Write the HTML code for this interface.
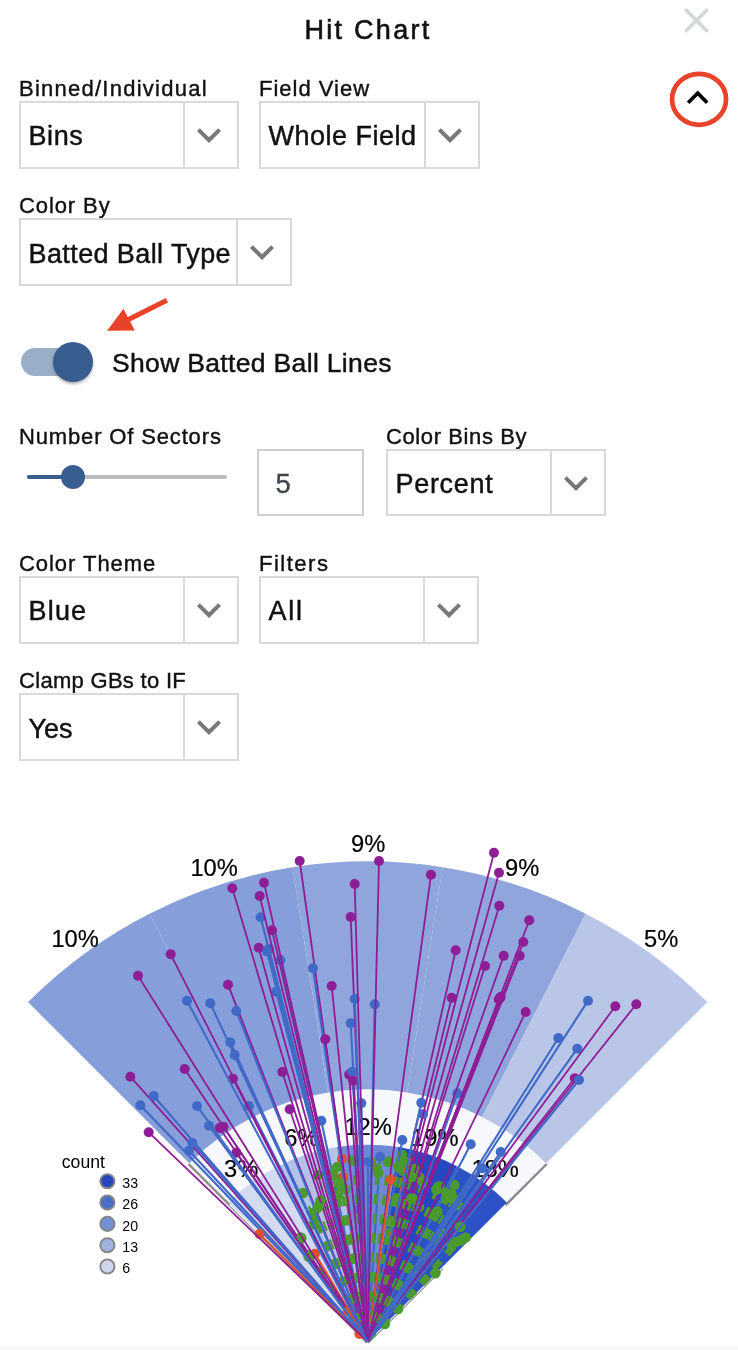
<!DOCTYPE html>
<html><head><meta charset="utf-8"><title>Hit Chart</title>
<style>
html,body{margin:0;padding:0;background:#fff;}
body{width:738px;height:1350px;position:relative;overflow:hidden;font-family:"Liberation Sans",sans-serif;color:#000;}
.abs{position:absolute;white-space:nowrap;}
.title{-webkit-text-stroke:0.6px #111;left:0;width:736px;text-align:center;top:12px;font-size:27px;line-height:36px;letter-spacing:2.3px;color:#111;}
.lbl{-webkit-text-stroke:0.4px #111;font-size:22px;line-height:26px;height:26px;color:#111;letter-spacing:0.4px;}
.sel{box-sizing:border-box;border:2px solid #d9d9d9;height:67.8px;background:#fff;}
.sel .txt{-webkit-text-stroke:0.45px #111;position:absolute;left:7.5px;top:2.5px;line-height:63px;font-size:27px;color:#111;letter-spacing:0.2px;}
.sel .div{position:absolute;right:52px;top:0;width:2px;height:64px;background:#d9d9d9;}
.sel svg{position:absolute;right:4px;top:8px;}
.num{box-sizing:border-box;border:2px solid #cfd0cd;height:67.8px;width:107px;}
.num span{position:absolute;left:16.5px;top:1.5px;line-height:63px;font-size:27.5px;color:#3e454c;-webkit-text-stroke:0.3px #3e454c;}
</style></head><body>
<div class="abs title">Hit Chart</div>

<!-- close X -->
<svg class="abs" style="left:675.3px;top:-1.5px" width="43" height="43" viewBox="0 0 24 24"><path d="M19 6.41L17.59 5 12 10.59 6.41 5 5 6.41 10.59 12 5 17.59 6.41 19 12 13.41 17.59 19 19 17.59 13.41 12z" fill="#d3d6db"/></svg>
<!-- red circle + chevron up -->
<svg class="abs" style="left:660px;top:62px" width="78" height="76" viewBox="660 62 78 76"><ellipse cx="699.05" cy="99.3" rx="27" ry="25.5" fill="none" stroke="#e8432a" stroke-width="4.7"/><g transform="translate(676.1 76.2) scale(1.8)"><path d="M12 8l-6 6 1.41 1.41L12 10.83l4.59 4.58L18 14z" fill="#000"/></g></svg>

<div class="abs lbl" style="left:19px;top:76px;letter-spacing:1.25px">Binned/Individual</div>
<div class="abs sel" style="left:19px;top:100.9px;width:220px"><span class="txt" style="letter-spacing:0.6px">Bins</span><i class="div"></i><svg width="48" height="48" viewBox="0 0 24 24"><path d="M16.59 8.59L12 13.17 7.41 8.59 6 10l6 6 6-6z" fill="#787878"/></svg></div>

<div class="abs lbl" style="left:259px;top:76px;letter-spacing:1.0px">Field View</div>
<div class="abs sel" style="left:259px;top:100.9px;width:221px"><span class="txt" style="letter-spacing:0.5px">Whole Field</span><i class="div"></i><svg width="48" height="48" viewBox="0 0 24 24"><path d="M16.59 8.59L12 13.17 7.41 8.59 6 10l6 6 6-6z" fill="#787878"/></svg></div>

<div class="abs lbl" style="left:19px;top:193px;letter-spacing:0.9px">Color By</div>
<div class="abs sel" style="left:19px;top:218.1px;width:273px"><span class="txt" style="letter-spacing:0.4px">Batted Ball Type</span><i class="div"></i><svg width="48" height="48" viewBox="0 0 24 24"><path d="M16.59 8.59L12 13.17 7.41 8.59 6 10l6 6 6-6z" fill="#787878"/></svg></div>

<!-- red arrow -->
<svg class="abs" style="left:95px;top:290px" width="90" height="50" viewBox="95 290 90 50"><path d="M166.9 300.3 L128 319.8" stroke="#e8432a" stroke-width="5" fill="none"/><path d="M107 330.8 L123.5 308.7 L134.8 330.4 Z" fill="#e8432a"/></svg>

<!-- toggle -->
<div class="abs" style="left:21px;top:348px;width:68px;height:28px;border-radius:14px;background:#9baec7"></div>
<div class="abs" style="left:53px;top:341.5px;width:40px;height:40px;border-radius:50%;background:#385d8f;box-shadow:0 2px 3px rgba(0,0,0,.3)"></div>
<div class="abs" style="left:112px;top:345px;font-size:26.5px;line-height:36px;letter-spacing:0.33px;color:#111;-webkit-text-stroke:0.45px #111">Show Batted Ball Lines</div>

<div class="abs lbl" style="left:19px;top:424px;letter-spacing:0.85px">Number Of Sectors</div>
<div class="abs" style="left:27px;top:474.5px;width:200px;height:4.5px;border-radius:2px;background:#bdbdbd"></div>
<div class="abs" style="left:27px;top:474.5px;width:46px;height:4.5px;border-radius:2px;background:#385d8f"></div>
<div class="abs" style="left:61px;top:464.7px;width:24px;height:24px;border-radius:50%;background:#385d8f"></div>
<div class="abs num" style="left:257px;top:448.6px"><span>5</span></div>

<div class="abs lbl" style="left:386px;top:424px;letter-spacing:0.6px">Color Bins By</div>
<div class="abs sel" style="left:386px;top:448.6px;width:220px"><span class="txt" style="letter-spacing:0.7px">Percent</span><i class="div"></i><svg width="48" height="48" viewBox="0 0 24 24"><path d="M16.59 8.59L12 13.17 7.41 8.59 6 10l6 6 6-6z" fill="#787878"/></svg></div>

<div class="abs lbl" style="left:19px;top:551px;letter-spacing:0.95px">Color Theme</div>
<div class="abs sel" style="left:19px;top:575.8px;width:220px"><span class="txt" style="letter-spacing:1.2px">Blue</span><i class="div"></i><svg width="48" height="48" viewBox="0 0 24 24"><path d="M16.59 8.59L12 13.17 7.41 8.59 6 10l6 6 6-6z" fill="#787878"/></svg></div>

<div class="abs lbl" style="left:259px;top:551px;letter-spacing:1.5px">Filters</div>
<div class="abs sel" style="left:259px;top:575.8px;width:220px"><span class="txt" style="letter-spacing:1.7px">All</span><i class="div"></i><svg width="48" height="48" viewBox="0 0 24 24"><path d="M16.59 8.59L12 13.17 7.41 8.59 6 10l6 6 6-6z" fill="#787878"/></svg></div>

<div class="abs lbl" style="left:19px;top:668px;letter-spacing:0.3px">Clamp GBs to IF</div>
<div class="abs sel" style="left:19px;top:693px;width:220px"><span class="txt" style="letter-spacing:0px">Yes</span><i class="div"></i><svg width="48" height="48" viewBox="0 0 24 24"><path d="M16.59 8.59L12 13.17 7.41 8.59 6 10l6 6 6-6z" fill="#787878"/></svg></div>

<div class="abs" id="botband" style="left:0;top:1344px;width:738px;height:6px;background:linear-gradient(#fff,#f8f8f8)"></div>
<!--CHART-->
<svg class="abs" style="left:0;top:800px" width="738" height="550" viewBox="0 800 738 550" font-family="Liberation Sans, sans-serif">
<path d="M367.6 1341.7L189.2 1163.3A252.3 252.3 0 0 1 546.0 1163.3Z" fill="#f7f8fb"/>
<path d="M366.5 1342.8L229.3 1205.7" stroke="#999" stroke-width="1.3" fill="none"/>
<path d="M229.7 1205.2L188.5 1164.0" stroke="#8a8a8a" stroke-width="2.4" fill="none"/>
<path d="M368.7 1342.8L443.0 1268.6" stroke="#999" stroke-width="1.3" fill="none"/>
<path d="M505.5 1205.2L546.7 1164.0" stroke="#8a8a8a" stroke-width="2.4" fill="none"/>
<path d="M28.0 1002.1A480.3 480.3 0 0 1 149.5 913.7L253.1 1116.9A252.3 252.3 0 0 0 189.2 1163.3Z" fill="#869ed9"/>
<path d="M149.5 913.7A480.3 480.3 0 0 1 292.5 867.3L328.1 1092.5A252.3 252.3 0 0 0 253.1 1116.9Z" fill="#869ed9"/>
<path d="M292.5 867.3A480.3 480.3 0 0 1 442.7 867.3L407.1 1092.5A252.3 252.3 0 0 0 328.1 1092.5Z" fill="#8fa5dc"/>
<path d="M442.7 867.3A480.3 480.3 0 0 1 585.7 913.7L482.1 1116.9A252.3 252.3 0 0 0 407.1 1092.5Z" fill="#8fa5dc"/>
<path d="M585.7 913.7A480.3 480.3 0 0 1 707.2 1002.1L546.0 1163.3A252.3 252.3 0 0 0 482.1 1116.9Z" fill="#b9c6e8"/>
<path d="M367.6 1341.7L228.3 1202.4A197.0 197.0 0 0 1 278.2 1166.2Z" fill="#d3dbf0"/>
<path d="M367.6 1341.7L278.2 1166.2A197.0 197.0 0 0 1 336.8 1147.1Z" fill="#b4c2e7"/>
<path d="M367.6 1341.7L336.8 1147.1A197.0 197.0 0 0 1 398.4 1147.1Z" fill="#6f8ad4"/>
<path d="M367.6 1341.7L398.4 1147.1A197.0 197.0 0 0 1 457.0 1166.2Z" fill="#2448c2"/>
<path d="M367.6 1341.7L457.0 1166.2A197.0 197.0 0 0 1 506.9 1202.4Z" fill="#2c52c5"/>
<text x="75.1" y="946.9" font-size="23.7" text-anchor="middle" fill="#000" stroke="#000" stroke-width="0.2">10%</text>
<text x="241.1" y="1176.5" font-size="23.7" text-anchor="middle" fill="#000" stroke="#000" stroke-width="0.2">3%</text>
<text x="214.1" y="876.1" font-size="23.7" text-anchor="middle" fill="#000" stroke="#000" stroke-width="0.2">10%</text>
<text x="301.4" y="1145.8" font-size="23.7" text-anchor="middle" fill="#000" stroke="#000" stroke-width="0.2">6%</text>
<text x="368.1" y="851.7" font-size="23.7" text-anchor="middle" fill="#000" stroke="#000" stroke-width="0.2">9%</text>
<text x="368.1" y="1135.2" font-size="23.7" text-anchor="middle" fill="#000" stroke="#000" stroke-width="0.2">12%</text>
<text x="522.1" y="876.1" font-size="23.7" text-anchor="middle" fill="#000" stroke="#000" stroke-width="0.2">9%</text>
<text x="434.8" y="1145.8" font-size="23.7" text-anchor="middle" fill="#000" stroke="#000" stroke-width="0.2">19%</text>
<text x="661.1" y="946.9" font-size="23.7" text-anchor="middle" fill="#000" stroke="#000" stroke-width="0.2">5%</text>
<text x="495.1" y="1176.5" font-size="23.7" text-anchor="middle" fill="#000" stroke="#000" stroke-width="0.2">18%</text>
<g fill="none">
<path d="M367.6 1341.7L342.0 1159.0" stroke="#e0502b" stroke-width="2"/><circle cx="342.0" cy="1159.0" r="5" fill="#e0502b"/>
<path d="M367.6 1341.7L340.3 1178.9" stroke="#4a9a2e" stroke-width="2.2" stroke-dasharray="10 9.5" stroke-dashoffset="-1.2"/><circle cx="340.3" cy="1178.9" r="5.3" fill="#4a9a2e"/>
<path d="M367.6 1341.7L388.7 1161.7" stroke="#4a9a2e" stroke-width="2.2" stroke-dasharray="10 9.5" stroke-dashoffset="-1.2"/><circle cx="388.7" cy="1161.7" r="5.3" fill="#4a9a2e"/>
<path d="M367.6 1341.7L451.5 1194.2" stroke="#4a9a2e" stroke-width="2.2" stroke-dasharray="10 9.5" stroke-dashoffset="-1.2"/><circle cx="451.5" cy="1194.2" r="5.3" fill="#4a9a2e"/>
<path d="M367.6 1341.7L396.2 1198.5" stroke="#4a9a2e" stroke-width="2.2" stroke-dasharray="10 9.5" stroke-dashoffset="-1.2"/><circle cx="396.2" cy="1198.5" r="5.3" fill="#4a9a2e"/>
<path d="M367.6 1341.7L419.0 1176.9" stroke="#4a9a2e" stroke-width="2.2" stroke-dasharray="10 9.5" stroke-dashoffset="-1.2"/><circle cx="419.0" cy="1176.9" r="5.3" fill="#4a9a2e"/>
<path d="M367.6 1341.7L405.7 1183.6" stroke="#4a9a2e" stroke-width="2.2" stroke-dasharray="10 9.5" stroke-dashoffset="-1.2"/><circle cx="405.7" cy="1183.6" r="5.3" fill="#4a9a2e"/>
<path d="M367.6 1341.7L341.6 1186.5" stroke="#4a9a2e" stroke-width="2.2" stroke-dasharray="10 9.5" stroke-dashoffset="-1.2"/><circle cx="341.6" cy="1186.5" r="5.3" fill="#4a9a2e"/>
<path d="M367.6 1341.7L419.0 1206.7" stroke="#4a9a2e" stroke-width="2.2" stroke-dasharray="10 9.5" stroke-dashoffset="-1.2"/><circle cx="419.0" cy="1206.7" r="5.3" fill="#4a9a2e"/>
<path d="M367.6 1341.7L402.7 1170.4" stroke="#4a9a2e" stroke-width="2.2" stroke-dasharray="10 9.5" stroke-dashoffset="-1.2"/><circle cx="402.7" cy="1170.4" r="5.3" fill="#4a9a2e"/>
<path d="M367.6 1341.7L387.6 1161.7" stroke="#4a9a2e" stroke-width="2.2" stroke-dasharray="10 9.5" stroke-dashoffset="-1.2"/><circle cx="387.6" cy="1161.7" r="5.3" fill="#4a9a2e"/>
<path d="M367.6 1341.7L454.2 1185.0" stroke="#4a9a2e" stroke-width="2.2" stroke-dasharray="10 9.5" stroke-dashoffset="-1.2"/><circle cx="454.2" cy="1185.0" r="5.3" fill="#4a9a2e"/>
<path d="M367.6 1341.7L446.0 1198.5" stroke="#4a9a2e" stroke-width="2.2" stroke-dasharray="10 9.5" stroke-dashoffset="-1.2"/><circle cx="446.0" cy="1198.5" r="5.3" fill="#4a9a2e"/>
<path d="M367.6 1341.7L313.8 1212.6" stroke="#4a9a2e" stroke-width="2.2" stroke-dasharray="10 9.5" stroke-dashoffset="-1.2"/><circle cx="313.8" cy="1212.6" r="5.3" fill="#4a9a2e"/>
<path d="M367.6 1341.7L424.4 1182.3" stroke="#4a9a2e" stroke-width="2.2" stroke-dasharray="10 9.5" stroke-dashoffset="-1.2"/><circle cx="424.4" cy="1182.3" r="5.3" fill="#4a9a2e"/>
<path d="M367.6 1341.7L370.8 1161.7" stroke="#4a9a2e" stroke-width="2.2" stroke-dasharray="10 9.5" stroke-dashoffset="-1.2"/><circle cx="370.8" cy="1161.7" r="5.3" fill="#4a9a2e"/>
<path d="M367.6 1341.7L460.8 1240.4" stroke="#4a9a2e" stroke-width="2.2" stroke-dasharray="10 9.5" stroke-dashoffset="-1.2"/><circle cx="460.8" cy="1240.4" r="5.3" fill="#4a9a2e"/>
<path d="M367.6 1341.7L438.5 1186.6" stroke="#4a9a2e" stroke-width="2.2" stroke-dasharray="10 9.5" stroke-dashoffset="-1.2"/><circle cx="438.5" cy="1186.6" r="5.3" fill="#4a9a2e"/>
<path d="M367.6 1341.7L409.8 1172.6" stroke="#4a9a2e" stroke-width="2.2" stroke-dasharray="10 9.5" stroke-dashoffset="-1.2"/><circle cx="409.8" cy="1172.6" r="5.3" fill="#4a9a2e"/>
<path d="M367.6 1341.7L442.9 1233.2" stroke="#4a9a2e" stroke-width="2.2" stroke-dasharray="10 9.5" stroke-dashoffset="-1.2"/><circle cx="442.9" cy="1233.2" r="5.3" fill="#4a9a2e"/>
<path d="M367.6 1341.7L451.8 1244.9" stroke="#4a9a2e" stroke-width="2.2" stroke-dasharray="10 9.5" stroke-dashoffset="-1.2"/><circle cx="451.8" cy="1244.9" r="5.3" fill="#4a9a2e"/>
<path d="M367.6 1341.7L400.6 1160.6" stroke="#4a9a2e" stroke-width="2.2" stroke-dasharray="10 9.5" stroke-dashoffset="-1.2"/><circle cx="400.6" cy="1160.6" r="5.3" fill="#4a9a2e"/>
<path d="M367.6 1341.7L384.8 1323.9" stroke="#4a9a2e" stroke-width="2.2" stroke-dasharray="10 9.5" stroke-dashoffset="-1.2"/><circle cx="384.8" cy="1323.9" r="5.3" fill="#4a9a2e"/>
<path d="M367.6 1341.7L494.0 852.7" stroke="#8e1e96" stroke-width="1.8"/><circle cx="494.0" cy="852.7" r="5" fill="#8e1e96"/>
<path d="M367.6 1341.7L574.7 1078.3" stroke="#8e1e96" stroke-width="1.8"/><circle cx="574.7" cy="1078.3" r="5" fill="#8e1e96"/>
<path d="M367.6 1341.7L402.0 1154.8" stroke="#4a9a2e" stroke-width="2.2" stroke-dasharray="10 9.5" stroke-dashoffset="-1.2"/><circle cx="402.0" cy="1154.8" r="5.3" fill="#4a9a2e"/>
<path d="M367.6 1341.7L636.3 1004.2" stroke="#8e1e96" stroke-width="1.8"/><circle cx="636.3" cy="1004.2" r="5" fill="#8e1e96"/>
<path d="M367.6 1341.7L299.7 861.0" stroke="#8e1e96" stroke-width="1.8"/><circle cx="299.7" cy="861.0" r="5" fill="#8e1e96"/>
<path d="M367.6 1341.7L529.3 920.3" stroke="#8e1e96" stroke-width="1.8"/><circle cx="529.3" cy="920.3" r="5" fill="#8e1e96"/>
<path d="M367.6 1341.7L236.3 1152.7" stroke="#8e1e96" stroke-width="1.8"/><circle cx="236.3" cy="1152.7" r="5" fill="#8e1e96"/>
<path d="M367.6 1341.7L361.3 1103.3" stroke="#4169c8" stroke-width="2.1"/><circle cx="361.3" cy="1103.3" r="5" fill="#4169c8"/>
<path d="M367.6 1341.7L338.3 1189.8" stroke="#4a9a2e" stroke-width="2.2" stroke-dasharray="10 9.5" stroke-dashoffset="-1.2"/><circle cx="338.3" cy="1189.8" r="5.3" fill="#4a9a2e"/>
<path d="M367.6 1341.7L321.3 1120.7" stroke="#4169c8" stroke-width="2.1"/><circle cx="321.3" cy="1120.7" r="5" fill="#4169c8"/>
<path d="M367.6 1341.7L314.9 1218.7" stroke="#4a9a2e" stroke-width="2.2" stroke-dasharray="10 9.5" stroke-dashoffset="-1.2"/><circle cx="314.9" cy="1218.7" r="5.3" fill="#4a9a2e"/>
<path d="M367.6 1341.7L140.3 1105.3" stroke="#4169c8" stroke-width="2.1"/><circle cx="140.3" cy="1105.3" r="5" fill="#4169c8"/>
<path d="M367.6 1341.7L414.7 1169.1" stroke="#4a9a2e" stroke-width="2.2" stroke-dasharray="10 9.5" stroke-dashoffset="-1.2"/><circle cx="414.7" cy="1169.1" r="5.3" fill="#4a9a2e"/>
<path d="M367.6 1341.7L228.0 984.7" stroke="#8e1e96" stroke-width="1.8"/><circle cx="228.0" cy="984.7" r="5" fill="#8e1e96"/>
<path d="M367.6 1341.7L269.0 949.0" stroke="#4169c8" stroke-width="2.1"/><circle cx="269.0" cy="949.0" r="5" fill="#4169c8"/>
<path d="M367.6 1341.7L268.0 950.0" stroke="#4169c8" stroke-width="2.1"/><circle cx="268.0" cy="950.0" r="5" fill="#4169c8"/>
<path d="M367.6 1341.7L485.0 966.0" stroke="#8e1e96" stroke-width="1.8"/><circle cx="485.0" cy="966.0" r="5" fill="#8e1e96"/>
<path d="M367.6 1341.7L615.3 1006.3" stroke="#8e1e96" stroke-width="1.8"/><circle cx="615.3" cy="1006.3" r="5" fill="#8e1e96"/>
<path d="M367.6 1341.7L458.0 1205.0" stroke="#4a9a2e" stroke-width="2.2" stroke-dasharray="10 9.5" stroke-dashoffset="-1.2"/><circle cx="458.0" cy="1205.0" r="5.3" fill="#4a9a2e"/>
<path d="M367.6 1341.7L352.9 1160.6" stroke="#4a9a2e" stroke-width="2.2" stroke-dasharray="10 9.5" stroke-dashoffset="-1.2"/><circle cx="352.9" cy="1160.6" r="5.3" fill="#4a9a2e"/>
<path d="M367.6 1341.7L470.7 1144.3" stroke="#4169c8" stroke-width="2.1"/><circle cx="470.7" cy="1144.3" r="5" fill="#4169c8"/>
<path d="M367.6 1341.7L455.9 1241.9" stroke="#4a9a2e" stroke-width="2.2" stroke-dasharray="10 9.5" stroke-dashoffset="-1.2"/><circle cx="455.9" cy="1241.9" r="5.3" fill="#4a9a2e"/>
<path d="M367.6 1341.7L453.7 1198.5" stroke="#4a9a2e" stroke-width="2.2" stroke-dasharray="10 9.5" stroke-dashoffset="-1.2"/><circle cx="453.7" cy="1198.5" r="5.3" fill="#4a9a2e"/>
<path d="M367.6 1341.7L318.0 1175.0" stroke="#4a9a2e" stroke-width="2.2" stroke-dasharray="10 9.5" stroke-dashoffset="-1.2"/><circle cx="318.0" cy="1175.0" r="5.3" fill="#4a9a2e"/>
<path d="M367.6 1341.7L446.1 1193.3" stroke="#4a9a2e" stroke-width="2.2" stroke-dasharray="10 9.5" stroke-dashoffset="-1.2"/><circle cx="446.1" cy="1193.3" r="5.3" fill="#4a9a2e"/>
<path d="M367.6 1341.7L223.5 1126.7" stroke="#8e1e96" stroke-width="1.8"/><circle cx="223.5" cy="1126.7" r="5" fill="#8e1e96"/>
<path d="M367.6 1341.7L523.3 942.0" stroke="#8e1e96" stroke-width="1.8"/><circle cx="523.3" cy="942.0" r="5" fill="#8e1e96"/>
<path d="M367.6 1341.7L402.3 1140.0" stroke="#4169c8" stroke-width="2.1"/><circle cx="402.3" cy="1140.0" r="5" fill="#4169c8"/>
<path d="M367.6 1341.7L359.0 1209.4" stroke="#4169c8" stroke-width="2.1"/><circle cx="359.0" cy="1209.4" r="5" fill="#4169c8"/>
<path d="M367.6 1341.7L232.3 888.3" stroke="#8e1e96" stroke-width="1.8"/><circle cx="232.3" cy="888.3" r="5" fill="#8e1e96"/>
<path d="M367.6 1341.7L343.0 1176.9" stroke="#e0502b" stroke-width="2"/><circle cx="343.0" cy="1176.9" r="5" fill="#e0502b"/>
<path d="M367.6 1341.7L460.2 1226.7" stroke="#4a9a2e" stroke-width="2.2" stroke-dasharray="10 9.5" stroke-dashoffset="-1.2"/><circle cx="460.2" cy="1226.7" r="5.3" fill="#4a9a2e"/>
<path d="M367.6 1341.7L431.0 874.7" stroke="#8e1e96" stroke-width="1.8"/><circle cx="431.0" cy="874.7" r="5" fill="#8e1e96"/>
<path d="M367.6 1341.7L303.0 1193.0" stroke="#4a9a2e" stroke-width="2.2" stroke-dasharray="10 9.5" stroke-dashoffset="-1.2"/><circle cx="303.0" cy="1193.0" r="5.3" fill="#4a9a2e"/>
<path d="M367.6 1341.7L350.7 1023.3" stroke="#4169c8" stroke-width="2.1"/><circle cx="350.7" cy="1023.3" r="5" fill="#4169c8"/>
<path d="M367.6 1341.7L300.8 1237.6" stroke="#4a9a2e" stroke-width="2.2" stroke-dasharray="10 9.5" stroke-dashoffset="-1.2"/><circle cx="300.8" cy="1237.6" r="5.3" fill="#4a9a2e"/>
<path d="M367.6 1341.7L276.3 991.7" stroke="#4169c8" stroke-width="2.1"/><circle cx="276.3" cy="991.7" r="5" fill="#4169c8"/>
<path d="M367.6 1341.7L209.0 1125.7" stroke="#4169c8" stroke-width="2.1"/><circle cx="209.0" cy="1125.7" r="5" fill="#4169c8"/>
<path d="M367.6 1341.7L412.5 1198.5" stroke="#4a9a2e" stroke-width="2.2" stroke-dasharray="10 9.5" stroke-dashoffset="-1.2"/><circle cx="412.5" cy="1198.5" r="5.3" fill="#4a9a2e"/>
<path d="M367.6 1341.7L408.2 1172.5" stroke="#4a9a2e" stroke-width="2.2" stroke-dasharray="10 9.5" stroke-dashoffset="-1.2"/><circle cx="408.2" cy="1172.5" r="5.3" fill="#4a9a2e"/>
<path d="M367.6 1341.7L282.3 1072.0" stroke="#8e1e96" stroke-width="1.8"/><circle cx="282.3" cy="1072.0" r="5" fill="#8e1e96"/>
<path d="M367.6 1341.7L350.7 917.0" stroke="#8e1e96" stroke-width="1.8"/><circle cx="350.7" cy="917.0" r="5" fill="#8e1e96"/>
<path d="M367.6 1341.7L374.7 1004.3" stroke="#4169c8" stroke-width="2.1"/><circle cx="374.7" cy="1004.3" r="5" fill="#4169c8"/>
<path d="M367.6 1341.7L380.0 1156.7" stroke="#4169c8" stroke-width="2.1"/><circle cx="380.0" cy="1156.7" r="5" fill="#4169c8"/>
<path d="M367.6 1341.7L130.3 1076.7" stroke="#8e1e96" stroke-width="1.8"/><circle cx="130.3" cy="1076.7" r="5" fill="#8e1e96"/>
<path d="M367.6 1341.7L249.0 1106.0" stroke="#4169c8" stroke-width="2.1"/><circle cx="249.0" cy="1106.0" r="5" fill="#4169c8"/>
<path d="M367.6 1341.7L337.3 1167.1" stroke="#4a9a2e" stroke-width="2.2" stroke-dasharray="10 9.5" stroke-dashoffset="-1.2"/><circle cx="337.3" cy="1167.1" r="5.3" fill="#4a9a2e"/>
<path d="M367.6 1341.7L499.0 872.7" stroke="#8e1e96" stroke-width="1.8"/><circle cx="499.0" cy="872.7" r="5" fill="#8e1e96"/>
<path d="M367.6 1341.7L313.0 968.3" stroke="#4169c8" stroke-width="2.1"/><circle cx="313.0" cy="968.3" r="5" fill="#4169c8"/>
<path d="M367.6 1341.7L349.2 1074.6" stroke="#8e1e96" stroke-width="1.8"/><circle cx="349.2" cy="1074.6" r="5" fill="#8e1e96"/>
<path d="M367.6 1341.7L320.4 1200.7" stroke="#4a9a2e" stroke-width="2.2" stroke-dasharray="10 9.5" stroke-dashoffset="-1.2"/><circle cx="320.4" cy="1200.7" r="5.3" fill="#4a9a2e"/>
<path d="M367.6 1341.7L233.0 1078.7" stroke="#8e1e96" stroke-width="1.8"/><circle cx="233.0" cy="1078.7" r="5" fill="#8e1e96"/>
<path d="M367.6 1341.7L352.3 1071.7" stroke="#4169c8" stroke-width="2.1"/><circle cx="352.3" cy="1071.7" r="5" fill="#4169c8"/>
<path d="M367.6 1341.7L236.3 1011.0" stroke="#4169c8" stroke-width="2.1"/><circle cx="236.3" cy="1011.0" r="5" fill="#4169c8"/>
<path d="M367.6 1341.7L437.4 1211.5" stroke="#4a9a2e" stroke-width="2.2" stroke-dasharray="10 9.5" stroke-dashoffset="-1.2"/><circle cx="437.4" cy="1211.5" r="5.3" fill="#4a9a2e"/>
<path d="M367.6 1341.7L189.0 1150.7" stroke="#4169c8" stroke-width="2.1"/><circle cx="189.0" cy="1150.7" r="5" fill="#4169c8"/>
<path d="M367.6 1341.7L390.2 1233.4" stroke="#4a9a2e" stroke-width="2.2" stroke-dasharray="10 9.5" stroke-dashoffset="-1.2"/><circle cx="390.2" cy="1233.4" r="5.3" fill="#4a9a2e"/>
<path d="M367.6 1341.7L309.5 1254.9" stroke="#4a9a2e" stroke-width="2.2" stroke-dasharray="10 9.5" stroke-dashoffset="-1.2"/><circle cx="309.5" cy="1254.9" r="5.3" fill="#4a9a2e"/>
<path d="M367.6 1341.7L429.9 1213.7" stroke="#4a9a2e" stroke-width="2.2" stroke-dasharray="10 9.5" stroke-dashoffset="-1.2"/><circle cx="429.9" cy="1213.7" r="5.3" fill="#4a9a2e"/>
<path d="M367.6 1341.7L439.6 1186.6" stroke="#4a9a2e" stroke-width="2.2" stroke-dasharray="10 9.5" stroke-dashoffset="-1.2"/><circle cx="439.6" cy="1186.6" r="5.3" fill="#4a9a2e"/>
<path d="M367.6 1341.7L455.7 950.3" stroke="#8e1e96" stroke-width="1.8"/><circle cx="455.7" cy="950.3" r="5" fill="#8e1e96"/>
<path d="M367.6 1341.7L465.6 1237.6" stroke="#4a9a2e" stroke-width="2.2" stroke-dasharray="10 9.5" stroke-dashoffset="-1.2"/><circle cx="465.6" cy="1237.6" r="5.3" fill="#4a9a2e"/>
<path d="M367.6 1341.7L519.7 955.7" stroke="#8e1e96" stroke-width="1.8"/><circle cx="519.7" cy="955.7" r="5" fill="#8e1e96"/>
<path d="M367.6 1341.7L558.3 1038.0" stroke="#4169c8" stroke-width="2.1"/><circle cx="558.3" cy="1038.0" r="5" fill="#4169c8"/>
<path d="M367.6 1341.7L422.2 1181.2" stroke="#4a9a2e" stroke-width="2.2" stroke-dasharray="10 9.5" stroke-dashoffset="-1.2"/><circle cx="422.2" cy="1181.2" r="5.3" fill="#4a9a2e"/>
<path d="M367.6 1341.7L230.3 1042.3" stroke="#4169c8" stroke-width="2.1"/><circle cx="230.3" cy="1042.3" r="5" fill="#4169c8"/>
<path d="M367.6 1341.7L398.0 1309.0" stroke="#4a9a2e" stroke-width="2.2" stroke-dasharray="10 9.5" stroke-dashoffset="-1.2"/><circle cx="398.0" cy="1309.0" r="5.3" fill="#4a9a2e"/>
<path d="M367.6 1341.7L407.0 1161.7" stroke="#e0502b" stroke-width="2"/><circle cx="407.0" cy="1161.7" r="5" fill="#e0502b"/>
<path d="M367.6 1341.7L280.3 960.0" stroke="#4169c8" stroke-width="2.1"/><circle cx="280.3" cy="960.0" r="5" fill="#4169c8"/>
<path d="M367.6 1341.7L258.7 947.7" stroke="#8e1e96" stroke-width="1.8"/><circle cx="258.7" cy="947.7" r="5" fill="#8e1e96"/>
<path d="M367.6 1341.7L499.3 905.7" stroke="#8e1e96" stroke-width="1.8"/><circle cx="499.3" cy="905.7" r="5" fill="#8e1e96"/>
<path d="M367.6 1341.7L390.8 1179.7" stroke="#e0502b" stroke-width="2"/><circle cx="390.8" cy="1179.7" r="5" fill="#e0502b"/>
<path d="M367.6 1341.7L577.3 1048.7" stroke="#4169c8" stroke-width="2.1"/><circle cx="577.3" cy="1048.7" r="5" fill="#4169c8"/>
<path d="M367.6 1341.7L337.9 1195.3" stroke="#4a9a2e" stroke-width="2.2" stroke-dasharray="10 9.5" stroke-dashoffset="-1.2"/><circle cx="337.9" cy="1195.3" r="5.3" fill="#4a9a2e"/>
<path d="M367.6 1341.7L332.9 1174.6" stroke="#4a9a2e" stroke-width="2.2" stroke-dasharray="10 9.5" stroke-dashoffset="-1.2"/><circle cx="332.9" cy="1174.6" r="5.3" fill="#4a9a2e"/>
<path d="M367.6 1341.7L404.0 1161.5" stroke="#4a9a2e" stroke-width="2.2" stroke-dasharray="10 9.5" stroke-dashoffset="-1.2"/><circle cx="404.0" cy="1161.5" r="5.3" fill="#4a9a2e"/>
<path d="M367.6 1341.7L457.3 1093.3" stroke="#4169c8" stroke-width="2.1"/><circle cx="457.3" cy="1093.3" r="5" fill="#4169c8"/>
<path d="M367.6 1341.7L376.7 1168.2" stroke="#4a9a2e" stroke-width="2.2" stroke-dasharray="10 9.5" stroke-dashoffset="-1.2"/><circle cx="376.7" cy="1168.2" r="5.3" fill="#4a9a2e"/>
<path d="M367.6 1341.7L411.4 1176.9" stroke="#4a9a2e" stroke-width="2.2" stroke-dasharray="10 9.5" stroke-dashoffset="-1.2"/><circle cx="411.4" cy="1176.9" r="5.3" fill="#4a9a2e"/>
<path d="M367.6 1341.7L315.0 1253.8" stroke="#e0502b" stroke-width="2"/><circle cx="315.0" cy="1253.8" r="5" fill="#e0502b"/>
<path d="M367.6 1341.7L435.4 1273.2" stroke="#4a9a2e" stroke-width="2.2" stroke-dasharray="10 9.5" stroke-dashoffset="-1.2"/><circle cx="435.4" cy="1273.2" r="5.3" fill="#4a9a2e"/>
<path d="M367.6 1341.7L259.5 1234.0" stroke="#e0502b" stroke-width="2"/><circle cx="259.5" cy="1234.0" r="5" fill="#e0502b"/>
<path d="M367.6 1341.7L397.3 1198.5" stroke="#4a9a2e" stroke-width="2.2" stroke-dasharray="10 9.5" stroke-dashoffset="-1.2"/><circle cx="397.3" cy="1198.5" r="5.3" fill="#4a9a2e"/>
<path d="M367.6 1341.7L313.7 1224.3" stroke="#4a9a2e" stroke-width="2.2" stroke-dasharray="10 9.5" stroke-dashoffset="-1.2"/><circle cx="313.7" cy="1224.3" r="5.3" fill="#4a9a2e"/>
<path d="M367.6 1341.7L378.1 1173.0" stroke="#4a9a2e" stroke-width="2.2" stroke-dasharray="10 9.5" stroke-dashoffset="-1.2"/><circle cx="378.1" cy="1173.0" r="5.3" fill="#4a9a2e"/>
<path d="M367.6 1341.7L289.7 1109.3" stroke="#8e1e96" stroke-width="1.8"/><circle cx="289.7" cy="1109.3" r="5" fill="#8e1e96"/>
<path d="M367.6 1341.7L503.7 955.7" stroke="#8e1e96" stroke-width="1.8"/><circle cx="503.7" cy="955.7" r="5" fill="#8e1e96"/>
<path d="M367.6 1341.7L421.3 1102.7" stroke="#4169c8" stroke-width="2.1"/><circle cx="421.3" cy="1102.7" r="5" fill="#4169c8"/>
<path d="M367.6 1341.7L368.0 1162.0" stroke="#4169c8" stroke-width="2.1"/><circle cx="368.0" cy="1162.0" r="5" fill="#4169c8"/>
<path d="M367.6 1341.7L525.7 1012.0" stroke="#8e1e96" stroke-width="1.8"/><circle cx="525.7" cy="1012.0" r="5" fill="#8e1e96"/>
<path d="M367.6 1341.7L184.7 1069.0" stroke="#8e1e96" stroke-width="1.8"/><circle cx="184.7" cy="1069.0" r="5" fill="#8e1e96"/>
<path d="M367.6 1341.7L588.0 1000.7" stroke="#4169c8" stroke-width="2.1"/><circle cx="588.0" cy="1000.7" r="5" fill="#4169c8"/>
<path d="M367.6 1341.7L272.0 930.3" stroke="#8e1e96" stroke-width="1.8"/><circle cx="272.0" cy="930.3" r="5" fill="#8e1e96"/>
<path d="M367.6 1341.7L398.4 1166.7" stroke="#4a9a2e" stroke-width="2.2" stroke-dasharray="10 9.5" stroke-dashoffset="-1.2"/><circle cx="398.4" cy="1166.7" r="5.3" fill="#4a9a2e"/>
<path d="M367.6 1341.7L353.2 1080.8" stroke="#8e1e96" stroke-width="1.8"/><circle cx="353.2" cy="1080.8" r="5" fill="#8e1e96"/>
<path d="M367.6 1341.7L340.3 1183.4" stroke="#4a9a2e" stroke-width="2.2" stroke-dasharray="10 9.5" stroke-dashoffset="-1.2"/><circle cx="340.3" cy="1183.4" r="5.3" fill="#4a9a2e"/>
<path d="M367.6 1341.7L153.7 1096.0" stroke="#4169c8" stroke-width="2.1"/><circle cx="153.7" cy="1096.0" r="5" fill="#4169c8"/>
<path d="M367.6 1341.7L267.0 951.5" stroke="#4169c8" stroke-width="2.1"/><circle cx="267.0" cy="951.5" r="5" fill="#4169c8"/>
<path d="M367.6 1341.7L500.7 997.0" stroke="#8e1e96" stroke-width="1.8"/><circle cx="500.7" cy="997.0" r="5" fill="#8e1e96"/>
<path d="M367.6 1341.7L345.1 1189.2" stroke="#4a9a2e" stroke-width="2.2" stroke-dasharray="10 9.5" stroke-dashoffset="-1.2"/><circle cx="345.1" cy="1189.2" r="5.3" fill="#4a9a2e"/>
<path d="M367.6 1341.7L436.4 1189.6" stroke="#4a9a2e" stroke-width="2.2" stroke-dasharray="10 9.5" stroke-dashoffset="-1.2"/><circle cx="436.4" cy="1189.6" r="5.3" fill="#4a9a2e"/>
<path d="M367.6 1341.7L390.8 1222.4" stroke="#4a9a2e" stroke-width="2.2" stroke-dasharray="10 9.5" stroke-dashoffset="-1.2"/><circle cx="390.8" cy="1222.4" r="5.3" fill="#4a9a2e"/>
<path d="M367.6 1341.7L317.9 1207.0" stroke="#4a9a2e" stroke-width="2.2" stroke-dasharray="10 9.5" stroke-dashoffset="-1.2"/><circle cx="317.9" cy="1207.0" r="5.3" fill="#4a9a2e"/>
<path d="M367.6 1341.7L411.4 1198.5" stroke="#4a9a2e" stroke-width="2.2" stroke-dasharray="10 9.5" stroke-dashoffset="-1.2"/><circle cx="411.4" cy="1198.5" r="5.3" fill="#4a9a2e"/>
<path d="M367.6 1341.7L498.7 999.5" stroke="#8e1e96" stroke-width="1.8"/><circle cx="498.7" cy="999.5" r="5" fill="#8e1e96"/>
<path d="M367.6 1341.7L308.7 1256.8" stroke="#4a9a2e" stroke-width="2.2" stroke-dasharray="10 9.5" stroke-dashoffset="-1.2"/><circle cx="308.7" cy="1256.8" r="5.3" fill="#4a9a2e"/>
<path d="M367.6 1341.7L301.3 1238.3" stroke="#4a9a2e" stroke-width="2.2" stroke-dasharray="10 9.5" stroke-dashoffset="-1.2"/><circle cx="301.3" cy="1238.3" r="5.3" fill="#4a9a2e"/>
<path d="M367.6 1341.7L331.7 986.0" stroke="#8e1e96" stroke-width="1.8"/><circle cx="331.7" cy="986.0" r="5" fill="#8e1e96"/>
<path d="M367.6 1341.7L219.5 1128.0" stroke="#8e1e96" stroke-width="1.8"/><circle cx="219.5" cy="1128.0" r="5" fill="#8e1e96"/>
<path d="M367.6 1341.7L260.7 917.3" stroke="#4169c8" stroke-width="2.1"/><circle cx="260.7" cy="917.3" r="5" fill="#4169c8"/>
<path d="M367.6 1341.7L138.0 975.7" stroke="#8e1e96" stroke-width="1.8"/><circle cx="138.0" cy="975.7" r="5" fill="#8e1e96"/>
<path d="M367.6 1341.7L192.3 1142.7" stroke="#4169c8" stroke-width="2.1"/><circle cx="192.3" cy="1142.7" r="5" fill="#4169c8"/>
<path d="M367.6 1341.7L359.4 1334.0" stroke="#e0502b" stroke-width="2"/><circle cx="359.4" cy="1334.0" r="5" fill="#e0502b"/>
<path d="M367.6 1341.7L210.3 1003.3" stroke="#4169c8" stroke-width="2.1"/><circle cx="210.3" cy="1003.3" r="5" fill="#4169c8"/>
<path d="M367.6 1341.7L482.3 1168.3" stroke="#4169c8" stroke-width="2.1"/><circle cx="482.3" cy="1168.3" r="5" fill="#4169c8"/>
<path d="M367.6 1341.7L148.7 1132.3" stroke="#8e1e96" stroke-width="1.8"/><circle cx="148.7" cy="1132.3" r="5" fill="#8e1e96"/>
<path d="M367.6 1341.7L325.3 1039.3" stroke="#8e1e96" stroke-width="1.8"/><circle cx="325.3" cy="1039.3" r="5" fill="#8e1e96"/>
<path d="M367.6 1341.7L234.7 1055.0" stroke="#4169c8" stroke-width="2.1"/><circle cx="234.7" cy="1055.0" r="5" fill="#4169c8"/>
<path d="M367.6 1341.7L423.0 1114.3" stroke="#4169c8" stroke-width="2.1"/><circle cx="423.0" cy="1114.3" r="5" fill="#4169c8"/>
<path d="M367.6 1341.7L259.7 896.0" stroke="#8e1e96" stroke-width="1.8"/><circle cx="259.7" cy="896.0" r="5" fill="#8e1e96"/>
<path d="M367.6 1341.7L354.7 999.0" stroke="#4169c8" stroke-width="2.1"/><circle cx="354.7" cy="999.0" r="5" fill="#4169c8"/>
<path d="M367.6 1341.7L451.7 997.7" stroke="#8e1e96" stroke-width="1.8"/><circle cx="451.7" cy="997.7" r="5" fill="#8e1e96"/>
<path d="M367.6 1341.7L500.7 1152.0" stroke="#4169c8" stroke-width="2.1"/><circle cx="500.7" cy="1152.0" r="5" fill="#4169c8"/>
<path d="M367.6 1341.7L348.0 1311.0" stroke="#e0502b" stroke-width="2"/><circle cx="348.0" cy="1311.0" r="5" fill="#e0502b"/>
<path d="M367.6 1341.7L379.0 861.0" stroke="#8e1e96" stroke-width="1.8"/><circle cx="379.0" cy="861.0" r="5" fill="#8e1e96"/>
<path d="M367.6 1341.7L170.7 954.3" stroke="#8e1e96" stroke-width="1.8"/><circle cx="170.7" cy="954.3" r="5" fill="#8e1e96"/>
<path d="M367.6 1341.7L264.0 882.7" stroke="#8e1e96" stroke-width="1.8"/><circle cx="264.0" cy="882.7" r="5" fill="#8e1e96"/>
<path d="M367.6 1341.7L579.0 1080.0" stroke="#4169c8" stroke-width="2.1"/><circle cx="579.0" cy="1080.0" r="5" fill="#4169c8"/>
<path d="M367.6 1341.7L354.7 884.0" stroke="#8e1e96" stroke-width="1.8"/><circle cx="354.7" cy="884.0" r="5" fill="#8e1e96"/>
<path d="M367.6 1341.7L187.0 1000.7" stroke="#4169c8" stroke-width="2.1"/><circle cx="187.0" cy="1000.7" r="5" fill="#4169c8"/>
<path d="M367.6 1341.7L499.7 998.3" stroke="#8e1e96" stroke-width="1.8"/><circle cx="499.7" cy="998.3" r="5" fill="#8e1e96"/>
<path d="M367.6 1341.7L197.0 1106.0" stroke="#4169c8" stroke-width="2.1"/><circle cx="197.0" cy="1106.0" r="5" fill="#4169c8"/>
</g>
<text x="61.8" y="1167.8" font-size="17.6" fill="#000">count</text>
<circle cx="107.4" cy="1181.2" r="7.1" fill="#2546bf" stroke="#858585" stroke-width="1.9"/>
<text x="122.3" y="1187.8" font-size="14.2" fill="#000">33</text>
<circle cx="107.4" cy="1202.5" r="7.1" fill="#4a6cc9" stroke="#858585" stroke-width="1.9"/>
<text x="122.3" y="1209.1" font-size="14.2" fill="#000">26</text>
<circle cx="107.4" cy="1223.9" r="7.1" fill="#7390d6" stroke="#858585" stroke-width="1.9"/>
<text x="122.3" y="1230.5" font-size="14.2" fill="#000">20</text>
<circle cx="107.4" cy="1245.2" r="7.1" fill="#a0b2e2" stroke="#858585" stroke-width="1.9"/>
<text x="122.3" y="1251.8" font-size="14.2" fill="#000">13</text>
<circle cx="107.4" cy="1266.5" r="7.1" fill="#cdd6ed" stroke="#858585" stroke-width="1.9"/>
<text x="122.3" y="1273.1" font-size="14.2" fill="#000">6</text>
</svg>
<!--/CHART-->
</body></html>
